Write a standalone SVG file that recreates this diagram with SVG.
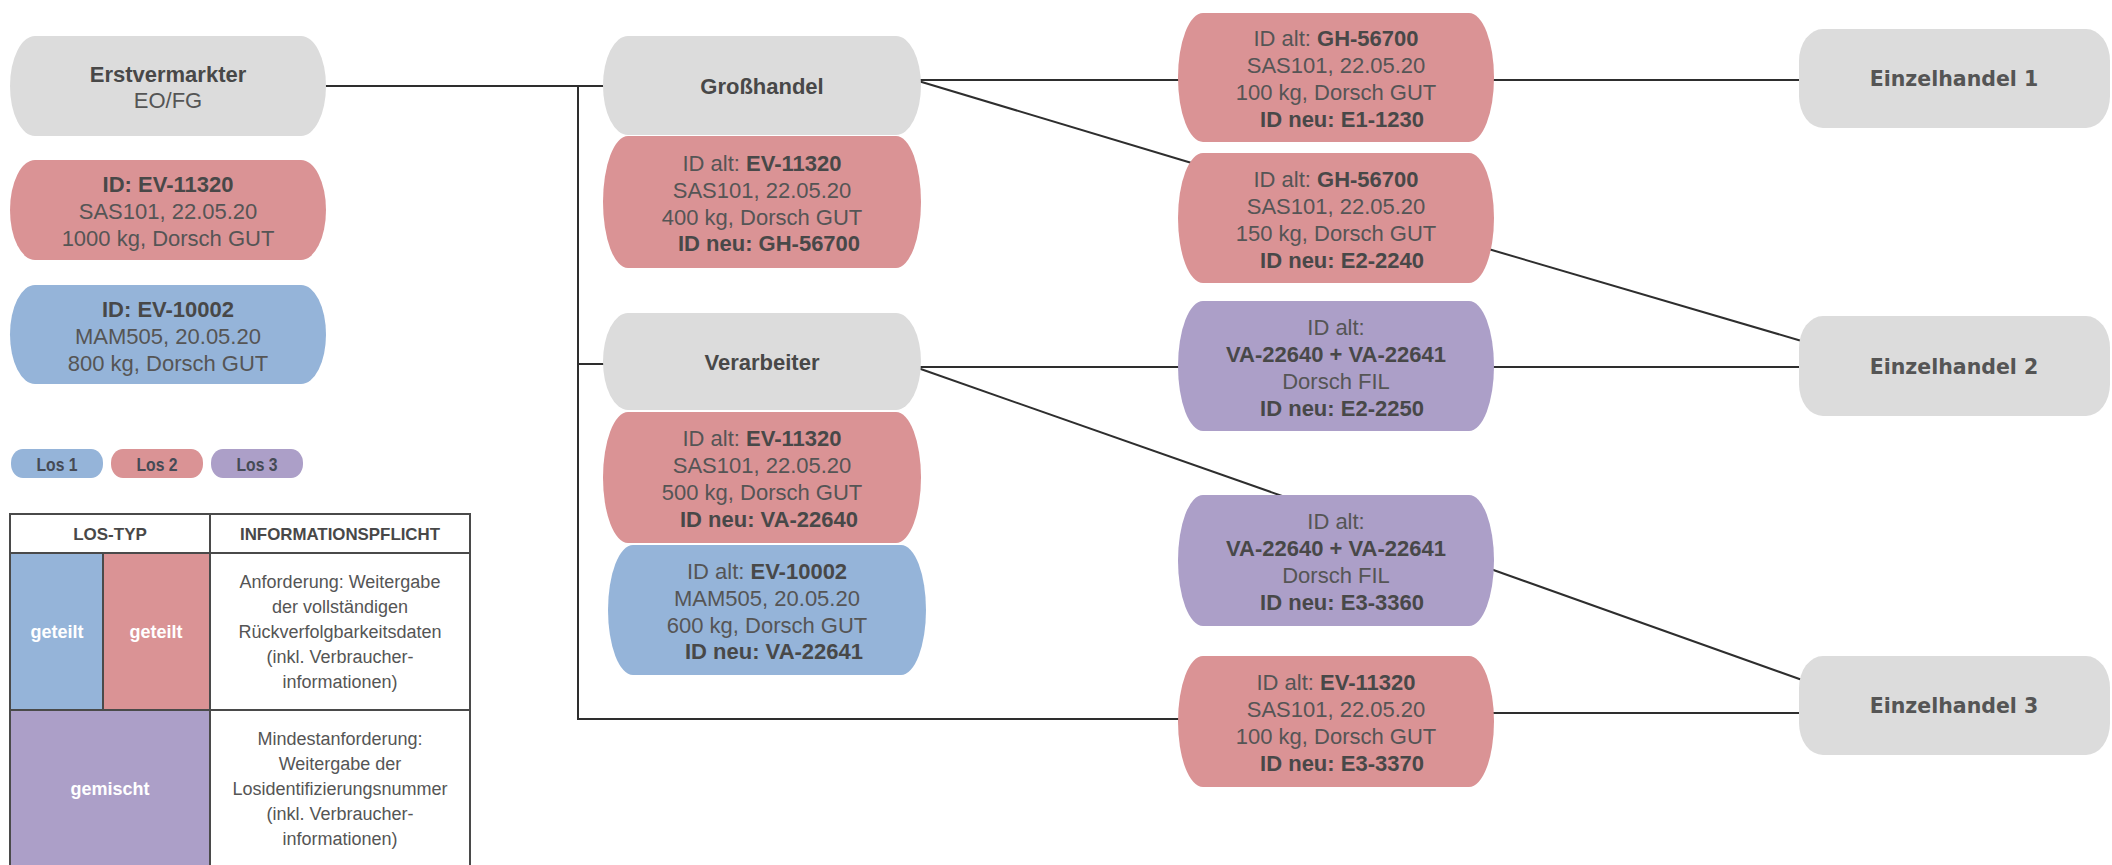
<svg xmlns="http://www.w3.org/2000/svg" width="2112" height="865" viewBox="0 0 2112 865">
<style>
.t{font-family:"Liberation Sans",Arial,sans-serif;font-size:22px;fill:#555;text-anchor:middle}
.b{font-weight:bold;fill:#484848}
.eh{font-family:"DejaVu Sans",Verdana,sans-serif;font-size:20.5px;font-weight:bold;fill:#555;text-anchor:middle}
.grey{fill:#dcdcdc}.red{fill:#da9395}.blue{fill:#95b4d9}.purple{fill:#ac9fc8}
.conn{stroke:#2e2e2e;stroke-width:2;fill:none}
.tb{stroke:#4a4a4a;stroke-width:2;fill:none}
.th{font-family:"Liberation Sans",Arial,sans-serif;font-size:17px;font-weight:bold;fill:#484848;text-anchor:middle}
.tc{font-family:"Liberation Sans",Arial,sans-serif;font-size:18px;fill:#555;text-anchor:middle}
.tw{font-family:"Liberation Sans",Arial,sans-serif;font-size:18px;font-weight:bold;fill:#fff;text-anchor:middle}
.los{font-family:"Liberation Sans",Arial,sans-serif;font-size:18px;font-weight:bold;fill:#454a55;text-anchor:middle}
</style>
<rect width="2112" height="865" fill="#fff"/>
<g id="connectors">
<path class="conn" d="M320 86 H610"/>
<path class="conn" d="M578 86 V719 H1185"/>
<path class="conn" d="M578 364 H610"/>
<path class="conn" d="M915 80 H1805"/>
<path class="conn" d="M915 80 L1195 164"/>
<path class="conn" d="M1485 248 L1805 342"/>
<path class="conn" d="M915 367 H1805"/>
<path class="conn" d="M915 367 L1285 497"/>
<path class="conn" d="M1485 567 L1805 681"/>
<path class="conn" d="M1485 713 H1805"/>
</g>
<g id="n_erst"><rect class="grey" x="10" y="36" width="316" height="100" rx="25" ry="50"/>
<text class="t b" x="168" y="82">Erstvermarkter</text><text class="t" x="168" y="108">EO/FG</text></g>
<g id="n_ev11320"><rect class="red" x="10" y="160" width="316" height="100" rx="25" ry="50"/>
<text class="t b" x="168" y="192">ID: EV-11320</text><text class="t" x="168" y="219">SAS101, 22.05.20</text><text class="t" x="168" y="246">1000 kg, Dorsch GUT</text></g>
<g id="n_ev10002"><rect class="blue" x="10" y="285" width="316" height="99" rx="25" ry="49.5"/>
<text class="t b" x="168" y="317">ID: EV-10002</text><text class="t" x="168" y="344">MAM505, 20.05.20</text><text class="t" x="168" y="371">800 kg, Dorsch GUT</text></g>
<g id="n_gross"><rect class="grey" x="603" y="36" width="318" height="99" rx="25" ry="49.5"/>
<text class="t b" x="762" y="94">Großhandel</text></g>
<g id="n_gh"><rect class="red" x="603" y="136" width="318" height="132" rx="25" ry="66"/>
<text class="t" x="762" y="171">ID alt: <tspan class="b">EV-11320</tspan></text><text class="t" x="762" y="198">SAS101, 22.05.20</text><text class="t" x="762" y="225">400 kg, Dorsch GUT</text><text class="t b" x="769" y="251">ID neu: GH-56700</text></g>
<g id="n_verarb"><rect class="grey" x="603" y="313" width="318" height="97" rx="25" ry="48.5"/>
<text class="t b" x="762" y="370">Verarbeiter</text></g>
<g id="n_va40"><rect class="red" x="603" y="412" width="318" height="131" rx="25" ry="65.5"/>
<text class="t" x="762" y="446">ID alt: <tspan class="b">EV-11320</tspan></text><text class="t" x="762" y="473">SAS101, 22.05.20</text><text class="t" x="762" y="500">500 kg, Dorsch GUT</text><text class="t b" x="769" y="527">ID neu: VA-22640</text></g>
<g id="n_va41"><rect class="blue" x="608" y="545" width="318" height="130" rx="25" ry="65"/>
<text class="t" x="767" y="579">ID alt: <tspan class="b">EV-10002</tspan></text><text class="t" x="767" y="606">MAM505, 20.05.20</text><text class="t" x="767" y="633">600 kg, Dorsch GUT</text><text class="t b" x="774" y="659">ID neu: VA-22641</text></g>
<g id="n_e1"><rect class="red" x="1178" y="13" width="316" height="129" rx="25" ry="64.5"/>
<text class="t" x="1336" y="46">ID alt: <tspan class="b">GH-56700</tspan></text><text class="t" x="1336" y="73">SAS101, 22.05.20</text><text class="t" x="1336" y="100">100 kg, Dorsch GUT</text><text class="t b" x="1342" y="127">ID neu: E1-1230</text></g>
<g id="n_e2a"><rect class="red" x="1178" y="153" width="316" height="130" rx="25" ry="65"/>
<text class="t" x="1336" y="187">ID alt: <tspan class="b">GH-56700</tspan></text><text class="t" x="1336" y="214">SAS101, 22.05.20</text><text class="t" x="1336" y="241">150 kg, Dorsch GUT</text><text class="t b" x="1342" y="268">ID neu: E2-2240</text></g>
<g id="n_e2b"><rect class="purple" x="1178" y="301" width="316" height="130" rx="25" ry="65"/>
<text class="t" x="1336" y="335">ID alt:</text><text class="t b" x="1336" y="362">VA-22640 + VA-22641</text><text class="t" x="1336" y="389">Dorsch FIL</text><text class="t b" x="1342" y="416">ID neu: E2-2250</text></g>
<g id="n_e3a"><rect class="purple" x="1178" y="495" width="316" height="131" rx="25" ry="65.5"/>
<text class="t" x="1336" y="529">ID alt:</text><text class="t b" x="1336" y="556">VA-22640 + VA-22641</text><text class="t" x="1336" y="583">Dorsch FIL</text><text class="t b" x="1342" y="610">ID neu: E3-3360</text></g>
<g id="n_e3b"><rect class="red" x="1178" y="656" width="316" height="131" rx="25" ry="65.5"/>
<text class="t" x="1336" y="690">ID alt: <tspan class="b">EV-11320</tspan></text><text class="t" x="1336" y="717">SAS101, 22.05.20</text><text class="t" x="1336" y="744">100 kg, Dorsch GUT</text><text class="t b" x="1342" y="771">ID neu: E3-3370</text></g>
<g id="n_eh1"><rect class="grey" x="1799" y="29" width="311" height="99" rx="24" ry="32"/>
<text class="eh" x="1954" y="86">Einzelhandel 1</text></g>
<g id="n_eh2"><rect class="grey" x="1799" y="316" width="311" height="100" rx="24" ry="32"/>
<text class="eh" x="1954" y="374">Einzelhandel 2</text></g>
<g id="n_eh3"><rect class="grey" x="1799" y="656" width="311" height="99" rx="24" ry="32"/>
<text class="eh" x="1954" y="713">Einzelhandel 3</text></g>
<g id="legend">
<rect class="blue" x="11" y="449" width="92" height="29" rx="12" ry="14"/><text class="los" x="57" y="471" textLength="41" lengthAdjust="spacingAndGlyphs">Los 1</text>
<rect class="red" x="111" y="449" width="92" height="29" rx="12" ry="14"/><text class="los" x="157" y="471" textLength="41" lengthAdjust="spacingAndGlyphs">Los 2</text>
<rect class="purple" x="211" y="449" width="92" height="29" rx="12" ry="14"/><text class="los" x="257" y="471" textLength="41" lengthAdjust="spacingAndGlyphs">Los 3</text>
</g>
<g id="table">
<rect x="10" y="514" width="460" height="360" fill="#fff"/>
<rect class="blue" x="10" y="553" width="93" height="157"/>
<rect class="red" x="103" y="553" width="107" height="157"/>
<rect class="purple" x="10" y="710" width="200" height="160"/>
<path class="tb" d="M10 870 V514 H470 V870 M210 514 V870 M10 553 H470 M10 710 H470 M103 553 V710"/>
<text class="th" x="110" y="540">LOS-TYP</text>
<text class="th" x="340" y="540" textLength="200" lengthAdjust="spacingAndGlyphs">INFORMATIONSPFLICHT</text>
<text class="tw" x="57" y="638">geteilt</text>
<text class="tw" x="156" y="638">geteilt</text>
<text class="tw" x="110" y="795">gemischt</text>
<text class="tc" x="340" y="588">Anforderung: Weitergabe</text>
<text class="tc" x="340" y="613">der vollständigen</text>
<text class="tc" x="340" y="638">Rückverfolgbarkeitsdaten</text>
<text class="tc" x="340" y="663">(inkl. Verbraucher-</text>
<text class="tc" x="340" y="688">informationen)</text>
<text class="tc" x="340" y="745">Mindestanforderung:</text>
<text class="tc" x="340" y="770">Weitergabe der</text>
<text class="tc" x="340" y="795">Losidentifizierungsnummer</text>
<text class="tc" x="340" y="820">(inkl. Verbraucher-</text>
<text class="tc" x="340" y="845">informationen)</text>
</g>
</svg>
